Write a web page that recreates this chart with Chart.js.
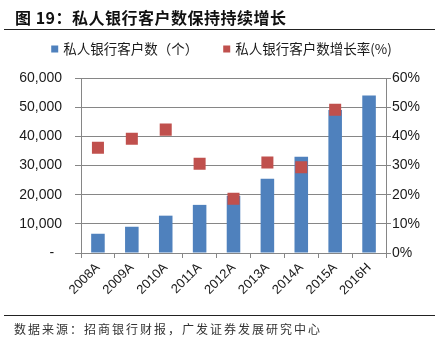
<!DOCTYPE html>
<html>
<head>
<meta charset="utf-8">
<script src="https://cdn.jsdelivr.net/npm/chart.js@4/dist/chart.umd.min.js"></script>
<style>
  body { margin: 0; background: #fff; }
  #wrap { position: relative; width: 435px; height: 343px; overflow: hidden; }
  #chart { position: absolute; left: 0; top: 0; }
  .title {
    position: absolute; left: 15px; top: 5px;
    font: bold 16px "Noto Sans CJK SC", sans-serif; color: #111;
    letter-spacing: 0.5px; white-space: nowrap;
  }
  .rule { position: absolute; left: 4px; width: 431px; height: 1px; background: #222; }
  .source {
    position: absolute; left: 14px; top: 320px;
    font: 12px "Noto Sans CJK SC", sans-serif; color: #333;
    letter-spacing: 2px; white-space: nowrap;
  }
</style>
</head>
<body>
<div id="wrap">
  <canvas id="chart" width="435" height="343"></canvas>
  <div class="title">图 19：私人银行客户数保持持续增长</div>
  <div class="rule" style="top:29px"></div>
  <div class="rule" style="top:315px"></div>
  <div class="source">数据来源：招商银行财报，广发证券发展研究中心</div>
</div>
<script>
const categories = ["2008A", "2009A", "2010A", "2011A", "2012A", "2013A", "2014A", "2015A", "2016H"];
const customers = [6600, 9000, 12800, 16500, 19600, 25500, 33000, 49000, 54000];
const growthRate = [36.1, 39.2, 42.3, 30.6, 18.6, 31.0, 29.4, 49.1, null];
const seriesNames = ["私人银行客户数（个）", "私人银行客户数增长率(%)"];

const gridGray = "#868686";
const tickFont = { family: "'Liberation Sans', Arial, sans-serif", size: 14 };

// legend drawn by hand so the plot area can stay where it is
const topLegend = {
  id: "topLegend",
  afterDraw(chart) {
    const ctx = chart.ctx;
    const box = 7, gap = 5, between = 25;
    ctx.save();
    ctx.font = "13.5px 'Noto Sans CJK SC', sans-serif";
    const items = chart.data.datasets.map(ds => ({
      text: ds.label,
      color: ds.backgroundColor,
      w: box + gap + ctx.measureText(ds.label).width
    }));
    const total = items.reduce((s, it) => s + it.w, 0) + between * (items.length - 1);
    let x = chart.width / 2 + 4 - total / 2;
    const y = 49;
    ctx.textBaseline = "middle";
    items.forEach(it => {
      ctx.fillStyle = it.color;
      ctx.fillRect(x, y - box / 2, box, box);
      ctx.fillStyle = "#1a1a1a";
      ctx.fillText(it.text, x + box + gap, y);
      x += it.w + between;
    });
    ctx.restore();
  }
};

const ctx = document.getElementById("chart").getContext("2d");
new Chart(ctx, {
  type: "bar",
  data: {
    labels: categories,
    datasets: [
      {
        label: seriesNames[0],
        data: customers,
        backgroundColor: "#4F81BD",
        yAxisID: "y",
        barPercentage: 0.4,
        categoryPercentage: 1,
        order: 2
      },
      {
        type: "line",
        label: seriesNames[1],
        data: growthRate,
        backgroundColor: "#C0504D",
        borderColor: "#C0504D",
        showLine: false,
        pointStyle: "rect",
        pointRadius: 8.5,
        pointBorderWidth: 0,
        yAxisID: "y2",
        order: 1
      }
    ]
  },
  options: {
    responsive: false,
    animation: false,
    devicePixelRatio: 1,
    layout: { padding: { top: 78, bottom: 43, left: 0, right: 0 } },
    plugins: { legend: { display: false }, tooltip: { enabled: false } },
    scales: {
      x: {
        offset: true,
        grid: { drawOnChartArea: false, drawTicks: true, tickLength: 5, color: gridGray },
        border: { color: gridGray },
        ticks: { minRotation: 45, maxRotation: 45, color: "#1a1a1a", padding: 2,
                 font: { family: tickFont.family, size: 13 } },
        afterFit(scale) { scale.height = 47; }
      },
      y: {
        position: "left",
        min: 0, max: 60000,
        grid: { color: gridGray, tickLength: 6 },
        border: { color: gridGray },
        ticks: {
          stepSize: 10000, padding: 13, color: "#1a1a1a", font: tickFont,
          callback: v => v === 0 ? "-  " : v.toLocaleString("en-US")
        },
        afterFit(scale) { scale.width = 81; }
      },
      y2: {
        position: "right",
        min: 0, max: 60,
        grid: { drawOnChartArea: false, tickLength: 5, color: gridGray },
        border: { color: gridGray },
        ticks: { stepSize: 10, padding: 1, color: "#1a1a1a", font: tickFont, callback: v => v + "%" },
        afterFit(scale) { scale.width = 49; }
      }
    }
  },
  plugins: [topLegend]
});
</script>
</body>
</html>
